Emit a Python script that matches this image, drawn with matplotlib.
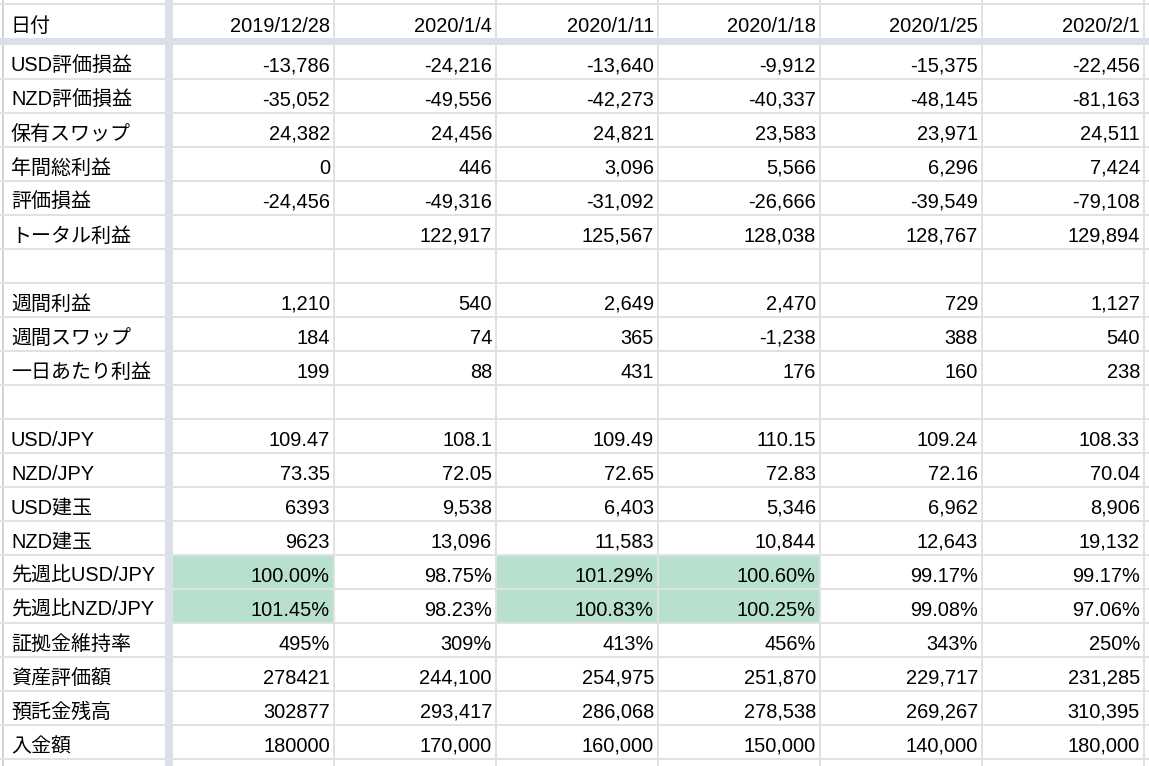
import matplotlib
matplotlib.use("Agg")
import matplotlib.pyplot as plt
from matplotlib.patches import Rectangle

plt.rcParams['font.family'] = ['Liberation Sans', 'Noto Sans CJK JP', 'DejaVu Sans']

# data (as shown in the sheet)
dates = ['2019/12/28', '2020/1/4', '2020/1/11', '2020/1/18', '2020/1/25', '2020/2/1']
row_labels = ['USD評価損益', 'NZD評価損益', '保有スワップ', '年間総利益', '評価損益', 'トータル利益', '',
              '週間利益', '週間スワップ', '一日あたり利益', '',
              'USD/JPY', 'NZD/JPY', 'USD建玉', 'NZD建玉', '先週比USD/JPY', '先週比NZD/JPY',
              '証拠金維持率', '資産評価額', '預託金残高', '入金額']
usd_pl = ['-13,786', '-24,216', '-13,640', '-9,912', '-15,375', '-22,456']
nzd_pl = ['-35,052', '-49,556', '-42,273', '-40,337', '-48,145', '-81,163']
swap_held = ['24,382', '24,456', '24,821', '23,583', '23,971', '24,511']
year_profit = ['0', '446', '3,096', '5,566', '6,296', '7,424']
eval_pl = ['-24,456', '-49,316', '-31,092', '-26,666', '-39,549', '-79,108']
total_profit = ['', '122,917', '125,567', '128,038', '128,767', '129,894']
blank = [''] * 6
week_profit = ['1,210', '540', '2,649', '2,470', '729', '1,127']
week_swap = ['184', '74', '365', '-1,238', '388', '540']
day_profit = ['199', '88', '431', '176', '160', '238']
usdjpy = ['109.47', '108.1', '109.49', '110.15', '109.24', '108.33']
nzdjpy = ['73.35', '72.05', '72.65', '72.83', '72.16', '70.04']
usd_pos = ['6393', '9,538', '6,403', '5,346', '6,962', '8,906']
nzd_pos = ['9623', '13,096', '11,583', '10,844', '12,643', '19,132']
usd_wow = ['100.00%', '98.75%', '101.29%', '100.60%', '99.17%', '99.17%']
nzd_wow = ['101.45%', '98.23%', '100.83%', '100.25%', '99.08%', '97.06%']
margin = ['495%', '309%', '413%', '456%', '343%', '250%']
assets = ['278421', '244,100', '254,975', '251,870', '229,717', '231,285']
deposit_bal = ['302877', '293,417', '286,068', '278,538', '269,267', '310,395']
deposits = ['180000', '170,000', '160,000', '150,000', '140,000', '180,000']

rows = [usd_pl, nzd_pl, swap_held, year_profit, eval_pl, total_profit, blank,
        week_profit, week_swap, day_profit, blank,
        usdjpy, nzdjpy, usd_pos, nzd_pos, usd_wow, nzd_wow,
        margin, assets, deposit_bal, deposits]

# cells highlighted green: (row index, column index)
green_cells = [(15, 0), (16, 0), (15, 2), (16, 2), (15, 3), (16, 3)]

# sheet geometry in pixels
W, H = 1149, 766
col_lines = [173, 334, 496, 658, 820, 982, 1144]
left_x = 3
band_x = (165, 173)
top_y = 4
band_y = (38, 45)
row_h = 34
grid_c = '#e1e1e1'
band_c = '#dadfe8'
green = '#b7e1cd'
fs = 14.4
lw = 1.44  # 2 px

fig = plt.figure(figsize=(W / 100, H / 100), dpi=100)
ax = fig.add_axes([0, 0, 1, 1])
ax.set_xlim(0, W)
ax.set_ylim(H, 0)
ax.axis('off')

row_tops = [band_y[1] + row_h * i for i in range(len(rows) + 1)]

# green fills
for r, c in green_cells:
    x0 = col_lines[c]
    ax.add_patch(Rectangle((x0, row_tops[r]), col_lines[c + 1] - x0, row_h,
                           facecolor=green, edgecolor='none', zorder=1))

# grid lines
for x in col_lines[1:]:
    ax.plot([x, x], [0, H], color=grid_c, lw=lw, zorder=2, solid_capstyle='butt')
ax.plot([left_x, left_x], [0, H], color='#d2d2d2', lw=lw, zorder=2, solid_capstyle='butt')
for y in [top_y] + row_tops[1:]:
    ax.plot([0, W], [y, y], color=grid_c, lw=lw, zorder=2, solid_capstyle='butt')
ax.add_patch(Rectangle((band_x[0], 0), band_x[1] - band_x[0], H,
                       facecolor=band_c, edgecolor='none', zorder=3))
ax.add_patch(Rectangle((0, band_y[0]), W, band_y[1] - band_y[0],
                       facecolor=band_c, edgecolor='none', zorder=3))

# header
ax.text(11, band_y[0] - 6, '日付', fontsize=fs, va='baseline', ha='left', zorder=4)
for j, d in enumerate(dates):
    ax.text(col_lines[j + 1] - 4, band_y[0] - 6, d, fontsize=fs, va='baseline', ha='right', zorder=4)

# body
for i, (lab, vals) in enumerate(zip(row_labels, rows)):
    yb = row_tops[i + 1] - 7
    if lab:
        ax.text(11, yb, lab, fontsize=fs, va='baseline', ha='left', zorder=4)
    for j, v in enumerate(vals):
        if v:
            ax.text(col_lines[j + 1] - 4, yb, v, fontsize=fs, va='baseline', ha='right', zorder=4)

fig.savefig('out.png', dpi=100)
